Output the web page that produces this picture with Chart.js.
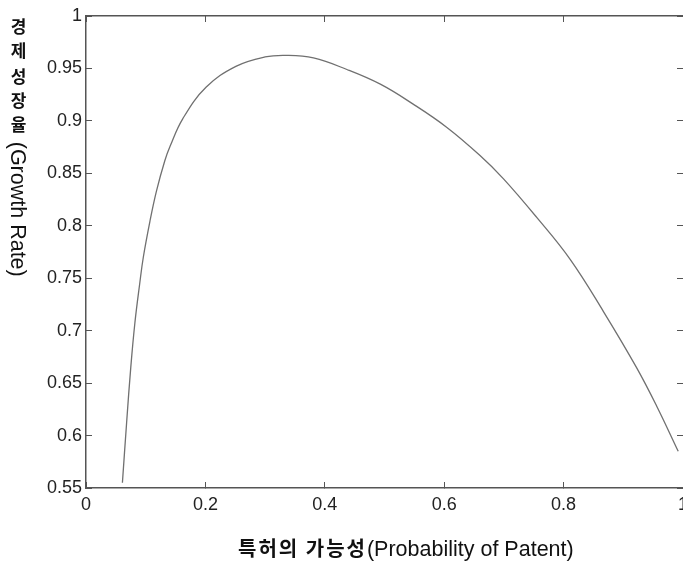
<!DOCTYPE html>
<html>
<head>
<meta charset="utf-8">
<script src="https://cdn.jsdelivr.net/npm/chart.js@4.4.1/dist/chart.umd.min.js"></script>
<style>
  body { margin: 0; overflow: hidden; background: #fff; }
  #wrap { position: relative; width: 690px; height: 561px; }
  #ytitle { position: absolute; left: 7px; top: 18px; writing-mode: vertical-rl; text-orientation: mixed; line-height: 21px; white-space: nowrap; color: #111; }
  #xtitle { position: absolute; left: 238px; top: 536px; line-height: 24px; white-space: nowrap; color: #111; }
  .ko { font-family: "Noto Sans CJK KR"; font-weight: 700; }
  .en { font-family: "Liberation Sans", Arial, sans-serif; }
</style>
</head>
<body>
<div id="wrap">
  <canvas id="chart" width="690" height="561"></canvas>
  <div id="ytitle"><span class="ko" style="font-size:17px;letter-spacing:7px;word-spacing:-9px">경제 성장율 </span><span class="en" style="font-size:21.5px">(Growth Rate)</span></div>
  <div id="xtitle"><span class="ko" style="font-size:20px;letter-spacing:2px">특허의 가능성</span><span class="en" style="font-size:21.5px">(Probability of Patent)</span></div>
</div>
<script>
// valeurs
const probPatent = [0.061, 0.068, 0.075, 0.082, 0.090, 0.096, 0.107, 0.118, 0.132, 0.141, 0.162, 0.201, 0.251,
  0.30, 0.335, 0.381, 0.437, 0.493, 0.548, 0.604, 0.66, 0.699, 0.755, 0.811, 0.867, 0.922, 0.956, 0.992]
const growthRate = [0.555, 0.612, 0.665, 0.708, 0.745, 0.770, 0.804, 0.833, 0.862, 0.876, 0.902, 0.932, 0.952,
  0.961, 0.9625, 0.960, 0.949, 0.935, 0.916, 0.894, 0.867, 0.845, 0.808, 0.768, 0.718, 0.665, 0.628, 0.585]
const xTicks = [0, 0.2, 0.4, 0.6, 0.8, 1]
const yTicks = [0.55, 0.6, 0.65, 0.7, 0.75, 0.8, 0.85, 0.9, 0.95, 1]

const axisColor = '#555'
const tickFont = { family: 'Liberation Sans', size: 18 }

function setTicks(list) {
  return scale => { scale.ticks = list.map(v => ({ value: v })) }
}

// taille fixe des axes, sans marge pour les libellés qui débordent
function fixSize(prop, size) {
  return scale => {
    scale[prop] = size
    scale.paddingLeft = scale.paddingRight = scale.paddingTop = scale.paddingBottom = 0
  }
}

window.onload = () => {
  new Chart(document.getElementById('chart'), {
    type: 'scatter',
    data: {
      datasets: [{
        data: probPatent.map((x, i) => ({ x: x, y: growthRate[i] })),
        showLine: true,
        borderColor: '#707070',
        borderWidth: 1.3,
        pointRadius: 0,
        tension: 0.4,
        fill: false
      }]
    },
    options: {
      responsive: false,
      animation: false,
      devicePixelRatio: 1,
      layout: { padding: 0 },
      plugins: { legend: { display: false }, tooltip: { enabled: false } },
      scales: {
        x: {
          type: 'linear', position: 'bottom', min: 0, max: 1,
          afterBuildTicks: setTicks(xTicks),
          afterFit: fixSize('height', 73),
          grid: { drawOnChartArea: false, tickLength: -6, color: axisColor },
          border: { color: axisColor, width: 1.5 },
          ticks: { padding: 12, color: '#222', font: tickFont, autoSkip: false, maxRotation: 0, callback: v => String(v) }
        },
        x2: {
          type: 'linear', position: 'top', min: 0, max: 1,
          afterBuildTicks: setTicks(xTicks),
          afterFit: fixSize('height', 16),
          grid: { drawOnChartArea: false, tickLength: -6, color: axisColor },
          border: { color: axisColor, width: 1.5 },
          ticks: { display: false }
        },
        y: {
          type: 'linear', position: 'left', min: 0.55, max: 1,
          afterBuildTicks: setTicks(yTicks),
          afterFit: fixSize('width', 86),
          grid: { drawOnChartArea: false, tickLength: -6, color: axisColor },
          border: { color: axisColor, width: 1.5 },
          ticks: { padding: 10, color: '#222', font: tickFont, autoSkip: false, callback: v => String(v) }
        },
        y2: {
          type: 'linear', position: 'right', min: 0.55, max: 1,
          afterBuildTicks: setTicks(yTicks),
          afterFit: fixSize('width', 7),
          grid: { drawOnChartArea: false, tickLength: -6, color: axisColor },
          border: { display: false },
          ticks: { display: false }
        }
      }
    }
  })
}
</script>
</body>
</html>
